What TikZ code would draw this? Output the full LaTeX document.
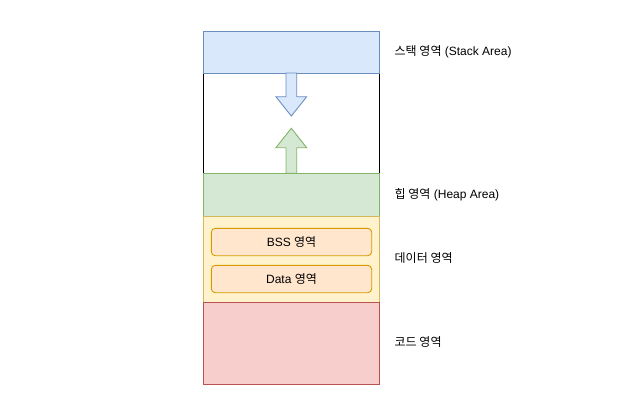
\documentclass[tikz,border=0pt]{standalone}
\usepackage{fontspec}
\setmainfont{Liberation Sans}
\newfontfamily\kr{Noto Sans CJK KR}
\newcommand{\K}[1]{{\kr #1}}
\definecolor{bluef}{HTML}{DAE8FC}\definecolor{blued}{HTML}{6C8EBF}
\definecolor{greenf}{HTML}{D5E8D4}\definecolor{greend}{HTML}{82B366}
\definecolor{yelf}{HTML}{FFF2CC}\definecolor{yeld}{HTML}{D6B656}
\definecolor{orf}{HTML}{FFE6CC}\definecolor{ord}{HTML}{D79B00}
\definecolor{redf}{HTML}{F8CECC}\definecolor{redd}{HTML}{B85450}
\tikzset{
  region/.style={draw, line width=0.9pt, inner sep=0pt},
  sub/.style={draw=ord, fill=orf, line width=0.9pt, rounded corners=4pt, inner sep=0pt, minimum width=160.4pt, minimum height=27.4pt, font=\fontsize{12}{14}\selectfont},
  lbl/.style={anchor=base west, inner sep=0pt, font=\fontsize{12}{14}\selectfont}
}
\begin{document}
\begin{tikzpicture}[x=1pt,y=-1pt]
\useasboundingbox (0,0) rectangle (636,412);
\path[fill=white] (0,0) rectangle (636,412);
\draw[black, line width=0.9pt] (203.3,73) rectangle (379.3,173);
\node[region, draw=blued, fill=bluef, minimum width=176pt, minimum height=42pt, anchor=north west] (stack) at (203.3,31) {};
\node[region, draw=greend, fill=greenf, minimum width=176pt, minimum height=42.5pt, anchor=north west] (heap) at (203.3,173.3) {};
\node[region, draw=yeld, fill=yelf, minimum width=176pt, minimum height=86pt, anchor=north west] (data) at (203.3,215.8) {};
\node[region, draw=redd, fill=redf, minimum width=176pt, minimum height=82pt, anchor=north west] (code) at (203.3,301.8) {};
\node[sub] (bss) at (291.5,242) {BSS \K{영역}};
\node[sub] (dat) at (291.5,279) {Data \K{영역}};
\draw[draw=blued, fill=bluef, line width=0.9pt] (286,73) -- (296.7,73) -- (296.7,96.7) -- (306.7,96.7) -- (291.3,116) -- (275.9,96.7) -- (286,96.7) -- cycle;
\draw[draw=greend, fill=greenf, line width=0.9pt] (291.3,128.3) -- (306.7,147.7) -- (296.7,147.7) -- (296.7,173.3) -- (286,173.3) -- (286,147.7) -- (275.9,147.7) -- cycle;
\node[lbl] (lstack) at (394.5,55.5) {\K{스택 영역} (Stack Area)};
\node[lbl] (lheap) at (394.5,198.5) {\K{힙 영역} (Heap Area)};
\node[lbl] (ldata) at (394.5,262.5) {\K{데이터 영역}};
\node[lbl] (lcode) at (394.5,346.5) {\K{코드 영역}};
\end{tikzpicture}
\end{document}
